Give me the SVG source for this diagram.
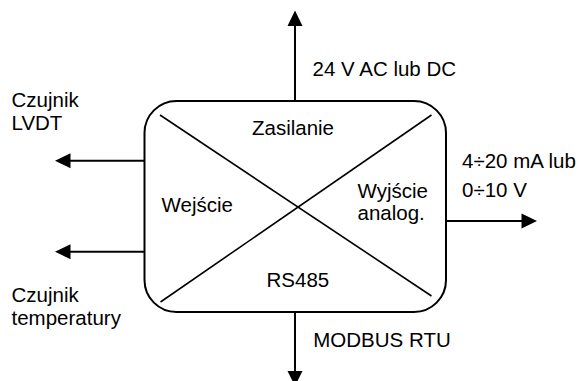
<svg xmlns="http://www.w3.org/2000/svg" width="580" height="381" viewBox="0 0 580 381">
<style>
text{font-family:"Liberation Sans",Arial,sans-serif;font-size:20.5px;fill:#000}
.ln{stroke:#000;stroke-width:2;fill:none}
.dg{stroke:#000;stroke-width:1.6;fill:none}
.ah{fill:#000;stroke:none}
</style>
<rect width="580" height="381" fill="#fff"/>
<g id="device">
<rect class="ln" x="144.5" y="101" width="301.5" height="211" rx="32" ry="32"/>
<line class="dg" x1="160" y1="115" x2="431.5" y2="296"/>
<line class="dg" x1="160.5" y1="302" x2="431.5" y2="115"/>
<text x="293" y="135" text-anchor="middle">Zasilanie</text>
<text x="161.5" y="212">Wejście</text>
<text x="357.5" y="198.3">Wyjście</text>
<text x="357.5" y="220">analog.</text>
<text x="266.5" y="286.7">RS485</text>
</g>
<g id="connectors">
<line class="ln" x1="295" y1="101" x2="295" y2="24"/>
<polygon class="ah" points="295,10.5 287.5,26 302.5,26"/>
<line class="ln" x1="295" y1="312" x2="295" y2="373"/>
<polygon class="ah" points="295,386 287.5,371 302.5,371"/>
<line class="ln" x1="144.5" y1="160.7" x2="69" y2="160.7"/>
<polygon class="ah" points="55,160.7 70.5,153.2 70.5,168.2"/>
<line class="ln" x1="144.5" y1="251.7" x2="69" y2="251.7"/>
<polygon class="ah" points="55,251.7 70.5,244.2 70.5,259.2"/>
<line class="ln" x1="446" y1="221" x2="523" y2="221"/>
<polygon class="ah" points="537,221 521.5,213.5 521.5,228.5"/>
</g>
<g id="labels">
<text x="312.5" y="76">24 V AC lub DC</text>
<text x="462" y="168.3">4÷20 mA lub</text>
<text x="462" y="196.7">0÷10 V</text>
<text x="313.3" y="347.3">MODBUS RTU</text>
<text x="11.5" y="106.7">Czujnik</text>
<text x="11.5" y="130">LVDT</text>
<text x="11.5" y="302.3">Czujnik</text>
<text x="11.5" y="325">temperatury</text>
</g>
</svg>
